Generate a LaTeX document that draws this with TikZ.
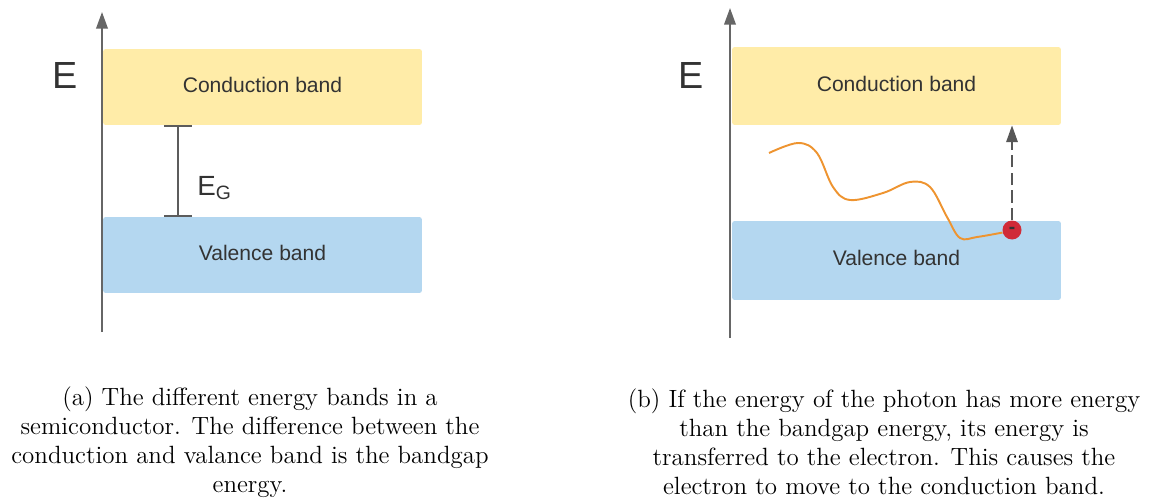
\documentclass[tikz,border=0pt]{standalone}
\usepackage{fontspec}
\newfontfamily\chartfont{Liberation Sans}
\usepackage{tikz}
\usetikzlibrary{positioning,arrows.meta,calc}
\definecolor{cband}{HTML}{FFECA8}
\definecolor{vband}{HTML}{B4D7F0}
\definecolor{axgray}{HTML}{666666}
\definecolor{txt}{HTML}{333333}
\definecolor{wave}{HTML}{EE9430}
\definecolor{elec}{HTML}{D02B38}

\begin{document}
\begin{tikzpicture}[x=0.02cm,y=-0.02cm,
  band/.style={rounded corners=1.5pt,inner sep=0pt,text depth=3pt,font=\chartfont\fontsize{12}{14}\selectfont,text=txt},
  axis/.style={axgray,line width=1.1pt,-{Triangle[length=9.5pt,width=6.6pt]}},
  elabel/.style={anchor=base west,inner sep=0pt,font=\chartfont\fontsize{21.5}{24}\selectfont,text=txt},
  capt/.style={align=center,inner sep=0pt,font=\fontsize{14.2}{16.45}\selectfont}]
  \useasboundingbox (0,0) rectangle (1149,497);
  % (a) the two bands and the gap
  \node[band,fill=cband,minimum width=6.38cm,minimum height=1.52cm] (cbA) at (262.5,87) {Conduction band};
  \node[band,fill=vband,minimum width=6.38cm,minimum height=1.52cm] (vbA) at (262.5,255) {Valence band};
  \coordinate (axAbot) at (102,332); \coordinate (axAtop) at (102,12);
  \draw[axis] (axAbot) -- (axAtop);
  \node[elabel] (eA) at (52,88) {E};
  \coordinate (gapTop) at (178,125); \coordinate (gapBot) at (178,217);
  \draw[axgray!90!black,line width=1.2pt,{Bar[width=16pt]}-{Bar[width=16pt]}] (gapTop) -- (gapBot);
  \node[anchor=base west,inner sep=0pt,text=txt,font=\chartfont\fontsize{15.8}{18}\selectfont] (eg) at (197,195)
    {E\raisebox{-2.4pt}{\fontsize{11}{12}\selectfont G}};
  \node[capt] (captA) at (250,442) {(a) The different energy bands in a\\semiconductor. The difference between the\\conduction and valance band is the bandgap\\energy.};
  % (b) electron lifted by the photon
  \node[band,fill=cband,minimum width=6.58cm,minimum height=1.56cm] (cbB) at (896.5,86) {Conduction band};
  \node[band,fill=vband,minimum width=6.58cm,minimum height=1.58cm] (vbB) at (896.5,260.5) {Valence band};
  \coordinate (axBbot) at (730,338); \coordinate (axBtop) at (730,8);
  \draw[axis] (axBbot) -- (axBtop);
  \node[elabel] (eB) at (678,88) {E};
  \node[circle,fill=elec,minimum size=0.38cm,inner sep=0pt,text=txt,font=\chartfont\bfseries\fontsize{11}{11}\selectfont] (el) at (1012,230) {-};
  \draw[wave,line width=1.1pt] plot[smooth,tension=0.6] coordinates{
    (769,153)(798,143)(817,153)(833,187)(850,200)(883,193)(910,182)(930,187)(947,217)(960,238)(977,237)(el.195)};
  \draw[axgray!85!black,line width=1.2pt,dash pattern=on 7pt off 3pt,-{Triangle[length=9.5pt,width=6.4pt]}] (el) -- (el |- cbB.south);
  \node[capt] (captB) at (884,442) {(b) If the energy of the photon has more energy\\than the bandgap energy, its energy is\\transferred to the electron. This causes the\\electron to move to the conduction band.};
\end{tikzpicture}
\end{document}
